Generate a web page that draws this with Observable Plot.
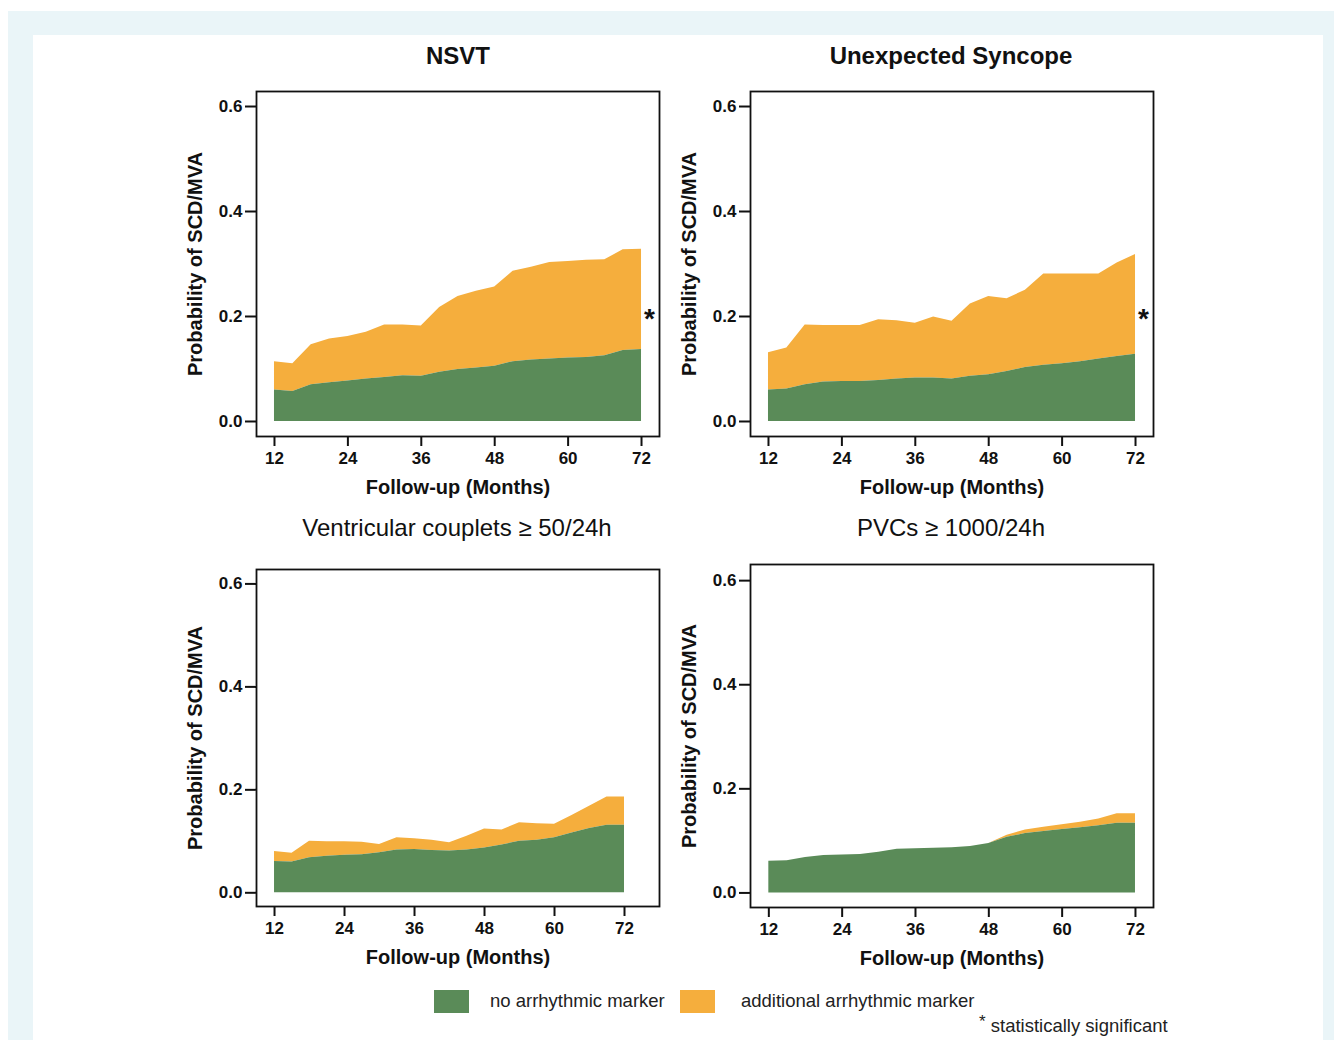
<!DOCTYPE html>
<html>
<head>
<meta charset="utf-8">
<script src="https://cdn.jsdelivr.net/npm/d3@7"></script>
<script src="https://cdn.jsdelivr.net/npm/@observablehq/plot@0.6"></script>
<style>
  html, body { margin: 0; padding: 0; background: #ffffff; }
  #root { position: relative; width: 1334px; height: 1040px; overflow: hidden; font-family: "Liberation Sans", Arial, sans-serif; color: #111; }
  .abs { position: absolute; }
  .title { position: absolute; transform: translate(-50%, -50%); white-space: nowrap; line-height: 1; font-size: 24px; }
  .legtext { position: absolute; white-space: nowrap; line-height: 1; font-size: 18.5px; transform: translateY(-50%); color: #222; }
  .swatch { position: absolute; width: 35px; height: 23px; }
</style>
</head>
<body>
<div id="root">
  <div class="abs" style="left:8px;top:11px;width:1326px;height:1029px;background:#eaf5f8;"></div>
  <div class="abs" style="left:33px;top:35px;width:1290px;height:1005px;background:#ffffff;"></div>
</div>
<script>
// ---------- data ----------
const months = [12, 15, 18, 21, 24, 27, 30, 33, 36, 39, 42, 45, 48, 51, 54, 57, 60, 63, 66, 69, 72];

const titles = ["NSVT", "Unexpected Syncope", "Ventricular couplets \u2265 50/24h", "PVCs \u2265 1000/24h"];
const titleBold = [true, true, false, false];
const significant = [true, true, false, false];

// probability without arrhythmic marker (green)
const nsvtNoMarker = [0.060, 0.057, 0.070, 0.074, 0.077, 0.081, 0.084, 0.087, 0.086, 0.094, 0.099, 0.102, 0.105, 0.114, 0.117, 0.119, 0.121, 0.122, 0.125, 0.135, 0.137];
const syncNoMarker = [0.060, 0.062, 0.070, 0.075, 0.076, 0.076, 0.078, 0.081, 0.083, 0.083, 0.081, 0.086, 0.089, 0.095, 0.103, 0.107, 0.110, 0.114, 0.119, 0.124, 0.128];
const coupNoMarker = [0.061, 0.060, 0.068, 0.071, 0.073, 0.074, 0.078, 0.083, 0.084, 0.082, 0.081, 0.083, 0.087, 0.093, 0.100, 0.102, 0.107, 0.116, 0.125, 0.131, 0.131];
const pvcNoMarker  = [0.061, 0.062, 0.068, 0.072, 0.073, 0.074, 0.078, 0.084, 0.085, 0.086, 0.087, 0.089, 0.095, 0.107, 0.114, 0.118, 0.122, 0.125, 0.129, 0.134, 0.134];

// probability with additional arrhythmic marker (orange)
const nsvtMarker = [0.114, 0.110, 0.146, 0.157, 0.162, 0.170, 0.184, 0.184, 0.182, 0.217, 0.238, 0.248, 0.256, 0.286, 0.294, 0.303, 0.305, 0.307, 0.308, 0.327, 0.328];
const syncMarker = [0.131, 0.140, 0.184, 0.183, 0.183, 0.183, 0.194, 0.192, 0.187, 0.199, 0.191, 0.224, 0.238, 0.234, 0.250, 0.281, 0.281, 0.281, 0.281, 0.302, 0.318];
const coupMarker = [0.080, 0.077, 0.100, 0.099, 0.099, 0.098, 0.094, 0.107, 0.105, 0.102, 0.097, 0.110, 0.124, 0.122, 0.136, 0.134, 0.133, 0.150, 0.168, 0.186, 0.186];
const pvcMarker  = [0.061, 0.062, 0.068, 0.072, 0.073, 0.074, 0.078, 0.084, 0.085, 0.086, 0.087, 0.089, 0.095, 0.111, 0.121, 0.126, 0.131, 0.136, 0.142, 0.152, 0.152];

const xTicks = [12, 24, 36, 48, 60, 72];
const yTicks = [0, 0.2, 0.4, 0.6];
const asteriskLevel = 0.2;

const legendLabels = ["no arrhythmic marker", "additional arrhythmic marker"];
const footnote = "statistically significant";
const yLabel = "Probability of SCD/MVA";
const xLabel = "Follow-up (Months)";

// ---------- styles ----------
const GREEN = "#5a8b58";
const ORANGE = "#f5ae3d";
const INK = "#111111";

const panels = [
  { none: nsvtNoMarker, add: nsvtMarker, left: 170, top: 80, w: 520, h: 430, mt: 11, mb: 74, xd: [9.06, 74.94], yd: [-0.0286, 0.6286], tx: 458, ty: 56 },
  { none: syncNoMarker, add: syncMarker, left: 664, top: 80, w: 520, h: 430, mt: 11, mb: 74, xd: [9.06, 74.94], yd: [-0.0286, 0.6286], tx: 951, ty: 56 },
  { none: coupNoMarker, add: coupMarker, left: 170, top: 560, w: 520, h: 420, mt: 9, mb: 74, xd: [8.91, 78.0], yd: [-0.0266, 0.628], tx: 457, ty: 528 },
  { none: pvcNoMarker,  add: pvcMarker,  left: 664, top: 555, w: 520, h: 426, mt: 9, mb: 74, xd: [9.0, 74.95], yd: [-0.028, 0.631], tx: 951, ty: 528 }
];

const root = document.getElementById("root");

panels.forEach((p, k) => {
  const data = months.map((m, i) => ({ month: m, none: p.none[i], add: p.add[i] }));
  const sig = significant[k] ? [{ month: months[months.length - 1], level: asteriskLevel, mark: "*" }] : [];
  const chart = Plot.plot({
    width: p.w,
    height: p.h,
    marginLeft: 86,
    marginRight: 31,
    marginTop: p.mt,
    marginBottom: p.mb,
    style: { background: "transparent", fontFamily: "'Liberation Sans', Arial, sans-serif", fontSize: "17px", fontWeight: "bold", color: INK, overflow: "visible" },
    x: { domain: p.xd },
    y: { domain: p.yd },
    marks: [
      Plot.areaY(data, { x: "month", y1: "none", y2: "add", fill: ORANGE }),
      Plot.areaY(data, { x: "month", y: "none", fill: GREEN }),
      Plot.frame({ stroke: INK, strokeWidth: 1.8 }),
      Plot.axisY({ ticks: yTicks, tickFormat: d3.format(".1f"), tickSize: 11, tickPadding: 3, strokeWidth: 2, label: null }),
      Plot.axisX({ ticks: xTicks, tickSize: 9, tickPadding: 5, strokeWidth: 2, label: null, dy: 1 }),
      Plot.text([yLabel], { text: d => d, frameAnchor: "left", textAnchor: "middle", rotate: -90, dx: -61, fontSize: 20, fontWeight: "bold", fill: INK }),
      Plot.text([xLabel], { text: d => d, frameAnchor: "bottom", textAnchor: "middle", dy: 57, fontSize: 20, fontWeight: "bold", fill: INK }),
      Plot.text(sig, { x: "month", y: "level", text: "mark", dx: 8, dy: 3, fontSize: 28, fontWeight: "bold", fill: INK })
    ]
  });
  chart.style.position = "absolute";
  chart.style.left = p.left + "px";
  chart.style.top = p.top + "px";
  root.appendChild(chart);

  const t = document.createElement("div");
  t.className = "title";
  t.textContent = titles[k];
  t.style.left = p.tx + "px";
  t.style.top = p.ty + "px";
  t.style.fontWeight = titleBold[k] ? "bold" : "normal";
  root.appendChild(t);
});

// ---------- legend ----------
const legendColors = [GREEN, ORANGE];
const swatchX = [434, 680];
const textX = [490, 741];
legendLabels.forEach((lab, i) => {
  const s = document.createElement("div");
  s.className = "swatch";
  s.style.left = swatchX[i] + "px";
  s.style.top = "990px";
  s.style.background = legendColors[i];
  root.appendChild(s);
  const t = document.createElement("div");
  t.className = "legtext";
  t.style.left = textX[i] + "px";
  t.style.top = "1001px";
  t.textContent = lab;
  root.appendChild(t);
});
const fn = document.createElement("div");
fn.className = "legtext";
fn.style.left = "979px";
fn.style.top = "1026px";
fn.innerHTML = '<span style="position:relative;top:-5px;font-size:17px;">*</span> ' + footnote;
root.appendChild(fn);
</script>
</body>
</html>
